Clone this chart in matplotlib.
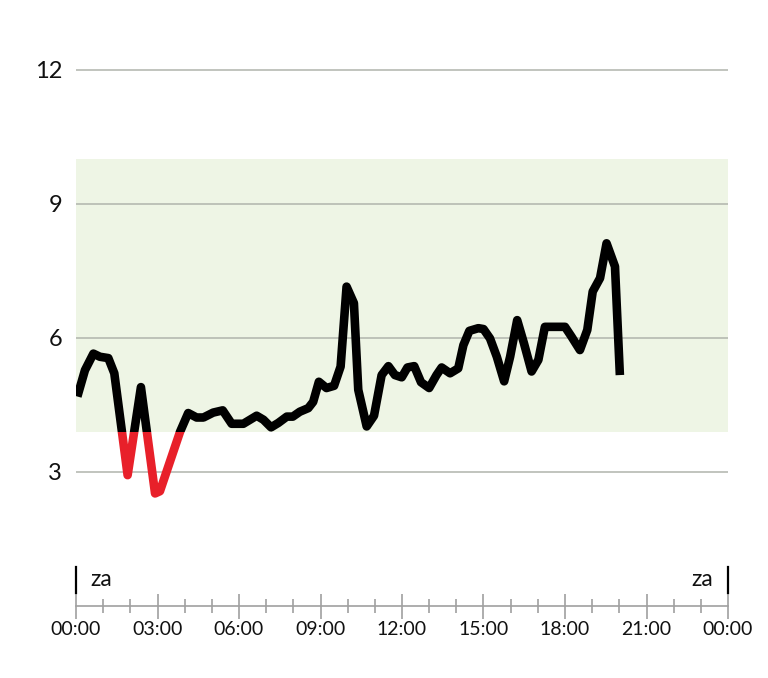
import matplotlib
matplotlib.use("Agg")
import matplotlib.pyplot as plt
from matplotlib.patches import Rectangle
from matplotlib.ticker import MultipleLocator, FixedLocator

hours = [0.05, 0.33, 0.64, 0.88, 1.19, 1.41, 1.90, 2.39, 2.91, 3.09, 3.34, 3.83, 4.13, 4.44, 4.69,
         5.05, 5.40, 5.73, 6.16, 6.65, 6.90, 7.18, 7.45, 7.76, 7.98, 8.24, 8.55, 8.73, 8.94,
         9.22, 9.50, 9.74, 9.96, 10.23, 10.39, 10.70, 10.97, 11.25, 11.50, 11.74, 11.99,
         12.20, 12.45, 12.70, 13.00, 13.27, 13.46, 13.77, 14.07, 14.26, 14.48, 14.81, 15.00,
         15.24, 15.49, 15.76, 15.98, 16.24, 16.49, 16.77, 17.02, 17.26, 17.69, 18.00, 18.24,
         18.55, 18.82, 19.02, 19.29, 19.53, 19.84, 20.02]
glucose = [4.69, 5.28, 5.65, 5.58, 5.55, 5.21, 2.93, 4.90, 2.52, 2.57, 3.02, 3.90, 4.32, 4.22, 4.22,
           4.33, 4.38, 4.08, 4.08, 4.26, 4.17, 4.00, 4.10, 4.24, 4.24, 4.35, 4.43, 4.57, 5.02,
           4.88, 4.93, 5.36, 7.15, 6.78, 4.84, 4.02, 4.26, 5.17, 5.37, 5.17, 5.12,
           5.34, 5.37, 5.01, 4.88, 5.17, 5.34, 5.21, 5.32, 5.84, 6.16, 6.22, 6.20,
           5.99, 5.58, 5.03, 5.58, 6.40, 5.88, 5.25, 5.51, 6.25, 6.25, 6.25, 6.03,
           5.73, 6.18, 7.04, 7.34, 8.12, 7.60, 5.17]

target_low = 3.9
target_high = 10.0
y_ticks = [3, 6, 9, 12]
x_ticks = [0, 3, 6, 9, 12, 15, 18, 21, 24]
x_labels = ["00:00", "03:00", "06:00", "09:00", "12:00", "15:00", "18:00", "21:00", "00:00"]
day_label = "za"

plt.rcParams["font.family"] = ["Lato", "DejaVu Sans"]

fig = plt.figure(figsize=(7.68, 6.78), dpi=100)
W, H = 768, 678
left, right, bottom, top = 76, 728, 606, 30
ppu = 134 / 3
ax = fig.add_axes([left / W, 1 - bottom / H, (right - left) / W, (bottom - top) / H])
ax.set_xlim(0, 24)
ax.set_ylim(0, (bottom - top) / ppu)

# target band
ax.axhspan(target_low, target_high, color="#eef5e5", zorder=0, lw=0)

# grid lines
for yv in y_ticks:
    ax.axhline(yv, color="#b0b4ac", lw=1.1, zorder=1)

# glucose line: black above threshold, red below
line_kw = dict(lw=6.2, solid_joinstyle="round", solid_capstyle="butt", zorder=3)
black, = ax.plot(hours, glucose, color="#000000", **line_kw)
red, = ax.plot(hours, glucose, color="#e8202a", **line_kw)
clip_above = Rectangle((0, target_low), 24, 20, transform=ax.transData)
clip_below = Rectangle((0, -5), 24, target_low + 5, transform=ax.transData)
black.set_clip_path(clip_above)
red.set_clip_path(clip_below)

# axes styling
for s in ["left", "right", "top"]:
    ax.spines[s].set_visible(False)
ax.spines["bottom"].set_color("#a0a0a0")
ax.spines["bottom"].set_linewidth(1.2)

ax.yaxis.set_major_locator(FixedLocator(y_ticks))
ax.set_yticklabels([str(v) for v in y_ticks])
ax.tick_params(axis="y", length=0, pad=10, labelsize=17, labelcolor="#111111")

ax.xaxis.set_major_locator(FixedLocator(x_ticks))
ax.xaxis.set_minor_locator(MultipleLocator(1))
ax.set_xticklabels(x_labels)
ax.tick_params(axis="x", which="major", direction="inout", length=18, width=1.2,
               color="#a0a0a0", labelsize=14, labelcolor="#111111", pad=2)
ax.tick_params(axis="x", which="minor", direction="inout", length=10, width=1.2,
               color="#a0a0a0")

# day markers
ymark0 = (bottom - 592.7) / ppu
ymark1 = (bottom - 566.7) / ppu
ax.plot([0, 0], [ymark0, ymark1], color="#000000", lw=1.6, clip_on=False, zorder=4)
ax.plot([24, 24], [ymark0, ymark1], color="#000000", lw=1.6, clip_on=False, zorder=4)
ytxt = (bottom - 586) / ppu
ax.text(0.52, ytxt, day_label, fontsize=16.5, va="baseline", ha="left", color="#111111")
ax.text(23.45, ytxt, day_label, fontsize=16.5, va="baseline", ha="right", color="#111111")

fig.savefig("out.png", dpi=100)
